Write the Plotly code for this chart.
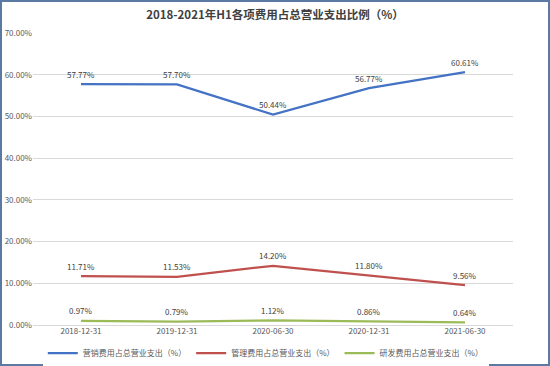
import plotly.graph_objects as go

categories = ["2018-12-31", "2019-12-31", "2020-06-30", "2020-12-31", "2021-06-30"]
sales_pct = [57.77, 57.70, 50.44, 56.77, 60.61]
admin_pct = [11.71, 11.53, 14.20, 11.80, 9.56]
rd_pct = [0.97, 0.79, 1.12, 0.86, 0.64]
series_names = ["营销费用占总营业支出（%）", "管理费用占总营业支出（%）", "研发费用占总营业支出（%）"]
y_ticks = [0, 10, 20, 30, 40, 50, 60, 70]
title = "2018-2021年H1各项费用占总营业支出比例（%）"

colors = ["#4472c4", "#c0504d", "#9bbb59"]
font_family = "Noto Sans CJK SC, Noto Sans, sans-serif"

L, R, T, B = 33, 37, 33, 41
W, H = 550, 366
pw, ph = W - L - R, H - T - B

fig = go.Figure()
annotations = []
for name, vals, col in zip(series_names, [sales_pct, admin_pct, rd_pct], colors):
    fig.add_trace(go.Scatter(
        x=categories, y=vals, name=name, mode="lines",
        line=dict(color=col, width=2.25),
    ))
    for c, v in zip(categories, vals):
        annotations.append(dict(x=c, y=v, xref="x", yref="y", text=f"{v:.2f}%",
                                showarrow=False, yshift=10,
                                font=dict(size=8, color="#404040", family=font_family)))

fig.update_layout(
    width=W, height=H,
    margin=dict(l=L, r=R, t=T, b=B, autoexpand=False),
    paper_bgcolor="white", plot_bgcolor="white",
    title=dict(text="<b>" + title + "</b>", x=0.5, xanchor="center", y=1 - 15 / H, yanchor="middle",
               font=dict(size=11.5, color="#404040", family=font_family)),
    font=dict(family=font_family, color="#595959", size=8),
    showlegend=True,
    legend=dict(orientation="h", x=0.485, xanchor="center", y=-(353 - 325) / ph, yanchor="middle",
                font=dict(size=8, color="#595959"), itemwidth=30, tracegroupgap=0),
    xaxis=dict(type="category", range=[-0.5, 4.5], showgrid=False, showline=False, ticks="",
               tickfont=dict(size=8, color="#595959"), automargin=False),
    yaxis=dict(range=[0, 70], tickvals=y_ticks, ticktext=[f"{v:.2f}%" for v in y_ticks],
               showgrid=True, gridcolor="#d9d9d9", gridwidth=1, zeroline=True,
               zerolinecolor="#d9d9d9", zerolinewidth=1, automargin=False,
               tickfont=dict(size=8, color="#595959"), ticks="", showline=False),
    annotations=annotations,
    shapes=[dict(type="rect", xref="paper", yref="paper", x0=-(L - 1) / pw, x1=1 + (R - 1) / pw,
                 y0=-(B - 1) / ph, y1=1 + (T - 1) / ph, line=dict(color="#5a7aa3", width=2))],
)

fig.write_html("out.html", config={"displayModeBar": False},
               post_script="document.body.style.margin='0';document.body.style.padding='0';"
                           "document.body.style.overflow='hidden';")
